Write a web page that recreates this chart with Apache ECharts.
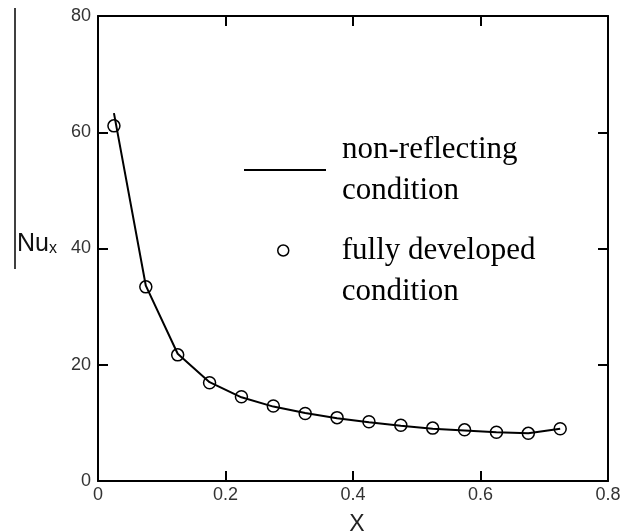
<!DOCTYPE html>
<html>
<head>
<meta charset="utf-8">
<script src="https://cdn.jsdelivr.net/npm/echarts@6/dist/echarts.min.js"></script>
<style>
  html, body { margin: 0; padding: 0; background: #fff; }
  #main { width: 629px; height: 532px; }
</style>
</head>
<body>
<div id="main"></div>
<script>
// data
var xPos = [0.025, 0.075, 0.125, 0.175, 0.225, 0.275, 0.325, 0.375, 0.425, 0.475, 0.525, 0.575, 0.625, 0.675, 0.725];
var nonReflecting = [63.3, 33.6, 21.9, 17.0, 14.4, 12.8, 11.7, 10.8, 10.1, 9.5, 9.0, 8.7, 8.4, 8.2, 9.0];
var fullyDeveloped = [61.1, 33.4, 21.7, 16.9, 14.5, 12.9, 11.6, 10.9, 10.2, 9.6, 9.1, 8.8, 8.4, 8.2, 9.0];
var lineName = 'non-reflecting\ncondition';
var dotName = 'fully developed\ncondition';

var lineData = [], dotData = [];
for (var i = 0; i < xPos.length; i += 1) {
  lineData.push([xPos[i], nonReflecting[i]]);
  dotData.push([xPos[i], fullyDeveloped[i]]);
}

var myChart = echarts.init(document.getElementById('main'));

var frameLine = { onZero: false, lineStyle: { color: '#000', width: 2 } };
var tickIn = { inside: true, length: 10, lineStyle: { color: '#000', width: 2 } };
var sans = 'Liberation Sans, Arial, sans-serif';
var serif = 'Liberation Serif, Times New Roman, serif';

var option = {
  animation: false,
  grid: { left: 98, right: 21, top: 16, bottom: 51, outerBoundsMode: 'none', containLabel: false },
  legend: [{
    data: [{ name: lineName, icon: 'rect' }],
    orient: 'vertical',
    left: 239, top: 120,
    itemWidth: 82, itemHeight: 2,
    textStyle: { fontFamily: serif, fontSize: 31, color: '#000', lineHeight: 41, padding: [0, 0, 8, 11] },
    selectedMode: false
  }, {
    data: [{ name: dotName, icon: 'circle' }],
    orient: 'vertical',
    left: 272, top: 180,
    itemWidth: 11, itemHeight: 11,
    itemStyle: { color: '#fff', borderColor: '#000', borderWidth: 1.5 },
    // empty first line so the marker sits beside "fully developed"
    formatter: function (name) { return ' \n' + name; },
    textStyle: { fontFamily: serif, fontSize: 31, color: '#000', lineHeight: 41, padding: [0, 0, 8, 48] },
    selectedMode: false
  }],
  xAxis: [{
    type: 'value', min: 0, max: 0.8, interval: 0.2,
    name: 'X', nameLocation: 'middle', nameGap: 32,
    nameTextStyle: { fontFamily: sans, fontSize: 23, color: '#222', padding: [0, 0, 0, 8] },
    axisLine: frameLine, axisTick: tickIn,
    axisLabel: { fontFamily: sans, fontSize: 18, color: '#333', margin: 5 },
    splitLine: { show: false }
  }, {
    type: 'value', min: 0, max: 0.8, interval: 0.2, position: 'top',
    axisLine: frameLine, axisTick: tickIn,
    axisLabel: { show: false }, splitLine: { show: false }
  }],
  yAxis: [{
    type: 'value', min: 0, max: 80, interval: 20,
    name: '{a|Nu}{b|x}', nameLocation: 'middle', nameGap: 41, nameRotate: 0,
    nameTextStyle: {
      rich: {
        a: { fontFamily: sans, fontSize: 25, color: '#111' },
        b: { fontFamily: sans, fontSize: 16, color: '#111', padding: [8, 0, 0, 0] }
      },
      padding: [0, 0, 8, 0]
    },
    axisLine: frameLine, axisTick: tickIn,
    axisLabel: { fontFamily: sans, fontSize: 18, color: '#333', margin: 7 },
    splitLine: { show: false }
  }, {
    type: 'value', min: 0, max: 80, interval: 20, position: 'right',
    axisLine: frameLine, axisTick: tickIn,
    axisLabel: { show: false }, splitLine: { show: false }
  }],
  // stray vertical rule at the left edge of the source image
  graphic: [{
    type: 'line',
    shape: { x1: 15, y1: 8, x2: 15, y2: 269 },
    style: { stroke: '#000', lineWidth: 1.5 }
  }],
  series: [{
    name: lineName,
    type: 'line',
    data: lineData,
    showSymbol: false,
    lineStyle: { color: '#000', width: 2 },
    itemStyle: { color: '#000' }
  }, {
    name: dotName,
    type: 'scatter',
    data: dotData,
    symbol: 'circle',
    symbolSize: 12,
    itemStyle: { color: '#fff', borderColor: '#000', borderWidth: 1.5, opacity: 1 }
  }]
};

myChart.setOption(option);
</script>
</body>
</html>
